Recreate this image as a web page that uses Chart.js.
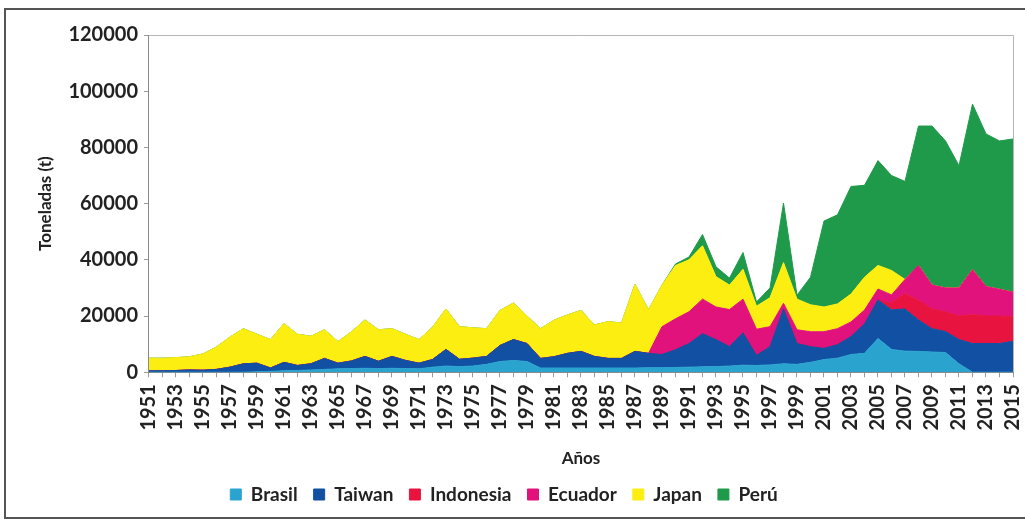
<!DOCTYPE html>
<html><head><meta charset="utf-8">
<style>html,body{margin:0;padding:0;background:#fff;overflow:hidden;} #wrap{width:1025px;height:523px;position:relative;}</style>
<script src="https://cdn.jsdelivr.net/npm/chart.js@4.4.1/dist/chart.umd.min.js"></script>
</head><body><div id="wrap"><canvas id="c" width="1025" height="523"></canvas></div>
<script>
const years = ["1951","1952","1953","1954","1955","1956","1957","1958","1959","1960",
"1961","1962","1963","1964","1965","1966","1967","1968","1969","1970",
"1971","1972","1973","1974","1975","1976","1977","1978","1979","1980",
"1981","1982","1983","1984","1985","1986","1987","1988","1989","1990",
"1991","1992","1993","1994","1995","1996","1997","1998","1999","2000",
"2001","2002","2003","2004","2005","2006","2007","2008","2009","2010",
"2011","2012","2013","2014","2015"];

const brasil = [0,0,0,0,0,0,0,0,200,300,
500,600,800,1000,1200,1300,1400,1300,1400,1300,
1200,1800,2200,2000,2200,2800,3800,4200,3800,1500,
1500,1500,1500,1500,1500,1500,1500,1600,1600,1700,
1800,1900,2000,2200,2500,2400,2600,3000,2800,3500,
4500,5000,6300,6700,12000,8100,7500,7400,7200,7000,
3000,0,0,0,0];

const taiwan = [500,500,600,800,700,1000,1800,3000,3000,1200,
3000,1800,2200,3900,2000,2700,4200,2600,4200,2900,
2000,2700,5900,2600,2800,2800,5700,7400,6400,3400,
4000,5200,5900,4100,3400,3400,5900,5100,4700,6300,
8400,11800,9600,6900,11500,3600,6500,19500,7400,5600,
4000,4800,6400,10500,13700,14100,15000,11200,8300,7500,
8600,10200,10200,10200,11000];

const indonesia = [0,0,0,0,0,0,0,0,0,0,
0,0,0,0,0,0,0,0,0,0,
0,0,0,0,0,0,0,0,0,0,
0,0,0,0,0,0,0,0,0,0,
0,0,0,0,0,0,0,0,0,0,
0,0,0,0,0,2500,5500,7000,7000,7000,
8400,10300,9800,9800,8700];

const ecuador = [0,0,0,0,0,0,0,0,0,0,
0,0,0,0,0,0,0,0,0,0,
0,0,0,0,0,0,0,0,0,0,
0,0,0,0,0,0,0,0,9900,11000,
11300,12300,11600,13200,12000,9300,7100,2000,4900,5300,
5900,5700,5200,4900,3900,2800,5000,12400,8500,8500,
10000,16000,10500,9500,8800];

const japan = [4500,4500,4600,4700,5800,8000,10700,12500,10300,10100,
13800,11100,9800,10200,7700,10400,13000,11200,9900,9300,
8400,11500,14400,11600,10800,9900,12500,13000,9800,10600,
13000,13700,14600,11200,13100,12600,23900,15500,14800,19000,
18500,19000,10800,8700,10600,8200,10300,14500,10900,9600,
8800,8800,9900,11700,8400,8700,0,0,0,0,
0,0,0,0,0];

const peru = [0,0,0,0,0,0,0,0,0,0,
0,0,0,0,0,0,0,0,0,0,
0,0,0,0,0,0,0,0,0,0,
0,0,0,0,0,0,0,0,0,500,
1000,4000,3500,2500,6000,1500,3500,21200,1400,9800,
30600,31700,38300,32700,37300,33800,34900,49600,56600,52300,
43500,58900,54300,52800,54500];

const seriesNames = ["Brasil","Taiwan","Indonesia","Ecuador","Japan","Perú"];
const seriesData = [brasil, taiwan, indonesia, ecuador, japan, peru];
const seriesColors = ["#2ba3cf","#1150a3","#e8133f","#e2127d","#fbee10","#1f9a4a"];

const yTicks = [0,20000,40000,60000,80000,100000,120000];

const FONT = "Lato, 'Open Sans', sans-serif";

const framePlugin = {
  id: 'frame',
  beforeDraw(chart) {
    const c = chart.ctx;
    c.save();
    c.fillStyle = '#fff';
    c.fillRect(0,0,chart.width,chart.height);
    c.restore();
  },
  afterLayout(chart) {
    if (chart.legend) { chart.legend.left -= 20; chart.legend.right -= 20; }
  },
  afterDraw(chart) {
    const c = chart.ctx, a = chart.chartArea;
    c.save();
    c.strokeStyle = '#b5b5b5';
    c.lineWidth = 1;
    c.beginPath();
    c.moveTo(a.left, a.top + 0.5); c.lineTo(a.right + 0.5, a.top + 0.5);
    c.lineTo(a.right + 0.5, a.bottom);
    c.stroke();
    c.strokeStyle = '#555';
    c.lineWidth = 2;
    c.strokeRect(5, 9, chart.width - 4, chart.height - 14);
    c.restore();
  }
};

new Chart(document.getElementById('c'), {
  type: 'line',
  data: {
    labels: years,
    datasets: seriesNames.map((n, i) => ({
      label: n,
      data: seriesData[i],
      backgroundColor: seriesColors[i],
      borderColor: seriesColors[i],
      borderWidth: 1,
      pointRadius: 0,
      tension: 0,
      fill: i === 0 ? 'origin' : '-1'
    }))
  },
  options: {
    responsive: false,
    animation: false,
    devicePixelRatio: 1,
    layout: { padding: { left: 35, right: 12, top: 35, bottom: 9 } },
    plugins: {
      legend: {
        position: 'bottom',
        labels: {
          boxWidth: 11, boxHeight: 11, padding: 16,
          color: '#222',
          font: { family: FONT, size: 19, weight: 'bold' }
        }
      },
      tooltip: { enabled: false },
      frame: {}
    },
    scales: {
      x: {
        type: 'category',
        offset: false,
        afterFit: (s) => { s.paddingRight = 0; s.paddingLeft = 0; },
        grid: { display: true, drawOnChartArea: false, drawTicks: true, tickLength: 5, color: '#9a9a9a' },
        border: { display: true, color: '#8a8a8a' },
        ticks: {
          autoSkip: false, minRotation: 90, maxRotation: 90, padding: 7,
          color: '#222',
          font: { family: FONT, size: 20, weight: 'bold' },
          callback: function(v, idx) { return idx % 2 === 0 ? years[idx] : ''; }
        },
        title: { display: true, text: 'Años', color: '#222', padding: { top: 11, bottom: 0 },
          font: { family: FONT, size: 17, weight: 'bold' } }
      },
      y: {
        stacked: true,
        min: 0, max: 120000,
        afterBuildTicks: (s) => { s.ticks = yTicks.map(v => ({ value: v })); },
        grid: { display: true, drawOnChartArea: false, drawTicks: true, tickLength: 5, color: '#9a9a9a' },
        border: { display: true, color: '#8a8a8a' },
        ticks: {
          color: '#222', padding: 6,
          font: { family: FONT, size: 20, weight: 'bold' },
          callback: (v) => String(v)
        },
        title: { display: true, text: 'Toneladas (t)', color: '#222', padding: { top: 0, bottom: 7 },
          font: { family: FONT, size: 17, weight: 'bold' } }
      }
    }
  },
  plugins: [framePlugin]
});
</script>
</body></html>
